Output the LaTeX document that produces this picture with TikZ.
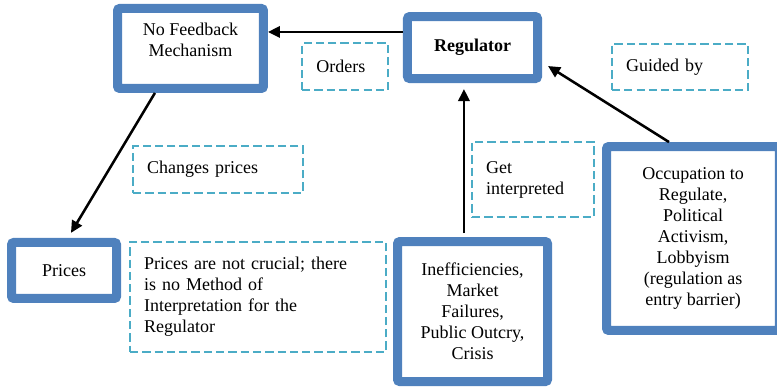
\documentclass[tikz,border=0pt]{standalone}
\usepackage{fontspec}
\setmainfont{Liberation Serif}
\usetikzlibrary{arrows.meta}
\definecolor{boxblue}{HTML}{4F81BD}
\definecolor{noteblue}{HTML}{4BACC6}

\begin{document}
\begin{tikzpicture}[x=1pt, y=-1pt,
	font=\fontsize{12}{14}\selectfont,
	actor/.style={draw=boxblue, line width=6pt, rounded corners=1.5pt, align=center, inner sep=2pt},
	note/.style={draw=noteblue, line width=1.6pt, dash pattern=on 5.5pt off 2.7pt, align=left, inner xsep=9.5pt},
	flow/.style={line width=1.7pt, -{Triangle[length=8pt,width=7.5pt]}}]
	\useasboundingbox (0,0) rectangle (518,258);
	% boxes
	\node [actor, minimum width=97.3pt, minimum height=53.3pt] (fb) at (127,32.3) {No Feedback\\Mechanism\\[-3pt]\mbox{}};
	\node [actor, minimum width=86.7pt, minimum height=41.3pt] (reg) at (315,31.7) {\textbf{Regulator}};
	\node [actor, minimum width=70pt, minimum height=37.3pt] (prices) at (42.7,180.3) {Prices};
	\node [actor, minimum width=100pt, minimum height=93.3pt] (ineff) at (315,207.7) {Inefficiencies,\\Market\\Failures,\\Public Outcry,\\Crisis};
	\node [actor, minimum width=115.3pt, minimum height=122.6pt] (occ) at (462,159) {Occupation to\\Regulate,\\Political\\Activism,\\Lobbyism\\(regulation as\\entry barrier)};
	%
	\node [note, text width=38.3pt, minimum height=31.3pt] (orders) at (230,44.3) {Orders};
	\node [note, text width=94.3pt, minimum height=31.3pt] (changes) at (145.3,113) {Changes prices};
	\node [note, text width=71.7pt, minimum height=30.7pt] (guided) at (453.3,44.7) {Guided by};
	\node [note, text width=62.3pt, minimum height=50pt] (interp) at (355.3,119.7) {Get\\interpreted};
	\node [note, text width=151.7pt, minimum height=73.3pt] (crucial) at (172,198) {Prices are not crucial; there\\is no Method of\\Interpretation for the\\Regulator};
	% arrows
	\draw [flow] ([yshift=10.4pt]reg.west) -- ([yshift=11pt]fb.east);
	\draw [flow] ([xshift=-23.7pt]fb.south) -- ([xshift=4.6pt,yshift=3.4pt]prices.north);
	\draw [flow] ([xshift=-5.7pt,yshift=2.7pt]ineff.north) -- ([xshift=-5.7pt,yshift=-4pt]reg.south);
	\draw [flow] ([xshift=-16pt]occ.north) -- ([xshift=4pt,yshift=-12.3pt]reg.east);
\end{tikzpicture}
\end{document}
